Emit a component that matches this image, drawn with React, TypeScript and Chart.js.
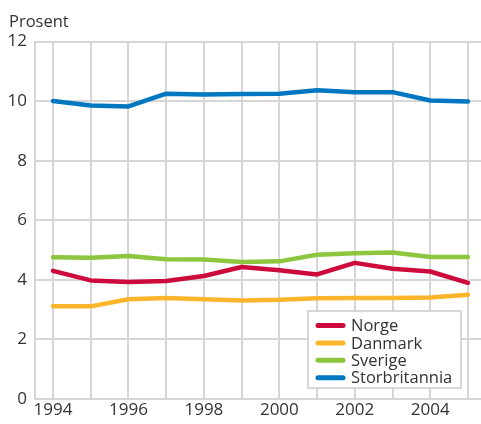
import React, { useEffect, useRef } from "react";
import { Chart, registerables } from "chart.js";

Chart.register(...registerables);

const years = [1994, 1995, 1996, 1997, 1998, 1999, 2000, 2001, 2002, 2003, 2004, 2005];
const norge = [4.3, 3.98, 3.93, 3.96, 4.13, 4.43, 4.32, 4.18, 4.57, 4.37, 4.28, 3.9];
const danmark = [3.11, 3.11, 3.35, 3.39, 3.35, 3.31, 3.33, 3.38, 3.39, 3.39, 3.41, 3.5];
const sverige = [4.76, 4.74, 4.8, 4.69, 4.68, 4.6, 4.62, 4.84, 4.89, 4.92, 4.77, 4.77];
const storbritannia = [10.0, 9.85, 9.82, 10.25, 10.22, 10.24, 10.25, 10.36, 10.3, 10.3, 10.02, 9.99];
const seriesNames = ["Norge", "Danmark", "Sverige", "Storbritannia"];
const seriesColors = ["#cc0a3c", "#fbb52b", "#8cc63f", "#0077c0"];
const yTicks = [0, 2, 4, 6, 8, 10, 12];
const yLabel = "Prosent";

const FONT = "'Open Sans', sans-serif";
const GRID = "#d6d6d6";

const overlayPlugin = {
  id: "overlay",
  afterDraw(chart: any) {
    const ctx = chart.ctx as CanvasRenderingContext2D;
    ctx.save();
    // y-axis title
    ctx.font = `16.5px ${FONT}`;
    ctx.fillStyle = "#333333";
    ctx.textAlign = "left";
    ctx.textBaseline = "alphabetic";
    ctx.fillText(yLabel, 9, 27);
    // legend
    const bx = 308, by = 311, bw = 153, bh = 77;
    ctx.fillStyle = "#ffffff";
    ctx.fillRect(bx, by, bw, bh);
    ctx.strokeStyle = "#cccccc";
    ctx.lineWidth = 1.5;
    ctx.strokeRect(bx, by, bw, bh);
    const ds = chart.data.datasets;
    ds.forEach((d: any, i: number) => {
      const cy = 325.5 + i * 17.4;
      ctx.strokeStyle = d.borderColor;
      ctx.lineWidth = 5;
      ctx.lineCap = "round";
      ctx.beginPath();
      ctx.moveTo(318, cy);
      ctx.lineTo(343, cy);
      ctx.stroke();
      ctx.fillStyle = "#333333";
      ctx.font = `16.5px ${FONT}`;
      ctx.textBaseline = "middle";
      ctx.fillText(d.label, 351, cy + 1);
    });
    ctx.restore();
  },
};

export default function App() {
  const ref = useRef<HTMLCanvasElement | null>(null);
  useEffect(() => {
    if (!ref.current) return;
    const allSeries = [norge, danmark, sverige, storbritannia];
    const chart = new Chart(ref.current, {
      type: "line",
      data: {
        datasets: allSeries.map((s, i) => ({
          label: seriesNames[i],
          data: years.map((y, j) => ({ x: y, y: s[j] })),
          borderColor: seriesColors[i],
          backgroundColor: seriesColors[i],
          borderWidth: 4.5,
          pointRadius: 0,
          tension: 0,
          borderJoinStyle: "round" as const,
          borderCapStyle: "round" as const,
        })),
      },
      options: {
        animation: false,
        responsive: false,
        maintainAspectRatio: false,
        layout: { padding: { top: 41.5, right: 0, left: 0, bottom: 0 } },
        plugins: {
          legend: { display: false },
          title: { display: false },
          tooltip: { enabled: false },
        },
        scales: {
          x: {
            type: "linear",
            min: 1993.523,
            max: 2005.345,
            afterFit: (s: any) => {
              s.height = 25;
            },
            ticks: {
              stepSize: 1,
              includeBounds: false,
              autoSkip: false,
              maxRotation: 0,
              color: "#333333",
              font: { family: FONT, size: 17 },
              padding: 1,
              callback: (v: any) => (Number(v) % 2 === 0 ? String(v) : ""),
            },
            grid: { color: GRID, lineWidth: 2, drawTicks: false },
            border: { display: true, color: GRID, width: 2 },
          },
          y: {
            min: 0,
            max: 12,
            afterFit: (s: any) => {
              s.width = 35;
            },
            afterBuildTicks: (s: any) => {
              s.ticks = yTicks.map((v) => ({ value: v }));
            },
            ticks: {
              color: "#333333",
              font: { family: FONT, size: 17 },
              padding: 8,
            },
            grid: { color: GRID, lineWidth: 2, drawTicks: false },
            border: { display: true, color: GRID, width: 2 },
          },
        },
      },
      plugins: [overlayPlugin],
    });
    return () => chart.destroy();
  }, []);
  return (
    <div style={{ position: "fixed", left: 0, top: 0, width: 481, height: 424, background: "#fff" }}>
      <canvas ref={ref} width={481} height={424} style={{ width: 481, height: 424, display: "block" }} />
    </div>
  );
}
